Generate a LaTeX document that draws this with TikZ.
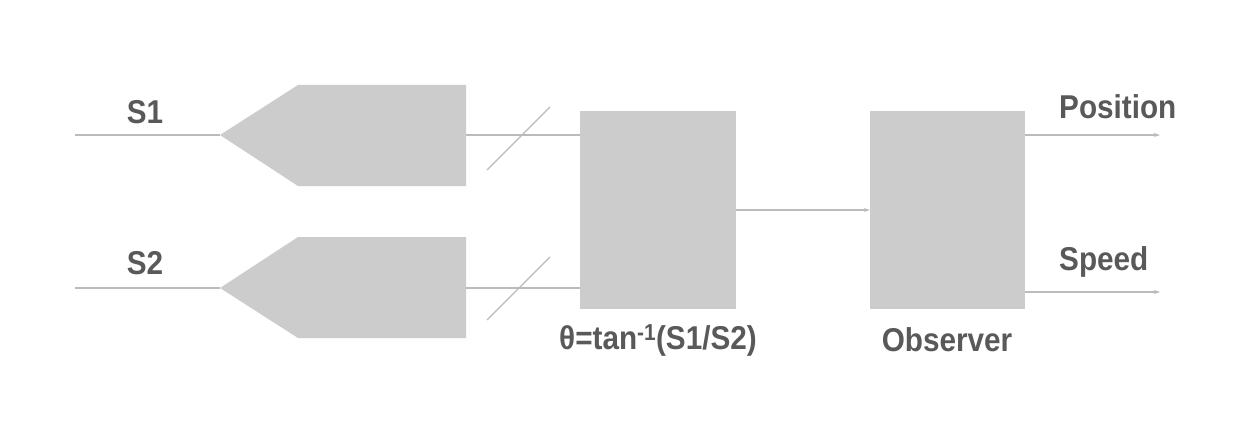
\documentclass[tikz,border=0pt]{standalone}
\usepackage{fontspec}
\setmainfont{Liberation Sans}
\usetikzlibrary{arrows.meta}
\definecolor{boxc}{HTML}{CCCCCC}
\definecolor{linec}{HTML}{BBBBBB}
\definecolor{txtc}{HTML}{595959}
\begin{document}
\begin{tikzpicture}[x=1pt,y=-1pt,
  blk/.style={fill=boxc,draw=none},
  wire/.style={draw=linec,line width=1.2pt},
  arr/.style={wire,-{Stealth[length=6pt,width=4pt]}},
  lbl/.style={text=txtc,font=\bfseries\fontsize{33}{36}\selectfont,xscale=0.9,inner sep=0pt}]
\useasboundingbox (0,0) rectangle (1251,436);
\fill[white] (0,0) rectangle (1251,436);
\fill[boxc] (220,135) -- (298,85) -- (466,85) -- (466,186) -- (298,186) -- cycle;
\fill[boxc] (220,288) -- (298,237) -- (466,237) -- (466,338) -- (298,338) -- cycle;
\coordinate (p1) at (220,135); \coordinate (p2) at (220,288);
\coordinate (i1) at (75,135); \coordinate (i2) at (75,288);
\coordinate (q1) at (466,135); \coordinate (q2) at (466,288);
\node[blk,minimum width=156pt,minimum height=198pt,inner sep=0pt] (calc) at (658,210) {};
\node[blk,minimum width=155pt,minimum height=198pt,inner sep=0pt] (obs) at (947.5,210) {};
\draw[wire] (i1) -- (p1);
\draw[wire] (i2) -- (p2);
\draw[wire] (q1) -- (calc.west |- q1);
\draw[wire] (q2) -- (calc.west |- q2);
\draw[wire] (487,170) -- (550,107);
\draw[wire] (487,320) -- (550,257);
\draw[arr] (calc.east) -- (obs.west);
\coordinate (o1) at (1160,135); \coordinate (o2) at (1160,292);
\draw[arr] (obs.east |- o1) -- (o1);
\draw[arr] (obs.east |- o2) -- (o2);
\node[lbl] (s1) at (145,112) {S1};
\node[lbl] (s2) at (145,263) {S2};
\node[lbl,anchor=west] (pos) at (1059,107) {Position};
\node[lbl,anchor=west] (spd) at (1059,262) {Speed};
\node[lbl] (th) at (658,340) {θ=tan\textsuperscript{-1}(S1/S2)};
\node[lbl] (ob) at (947,340) {Observer};
\end{tikzpicture}
\end{document}
